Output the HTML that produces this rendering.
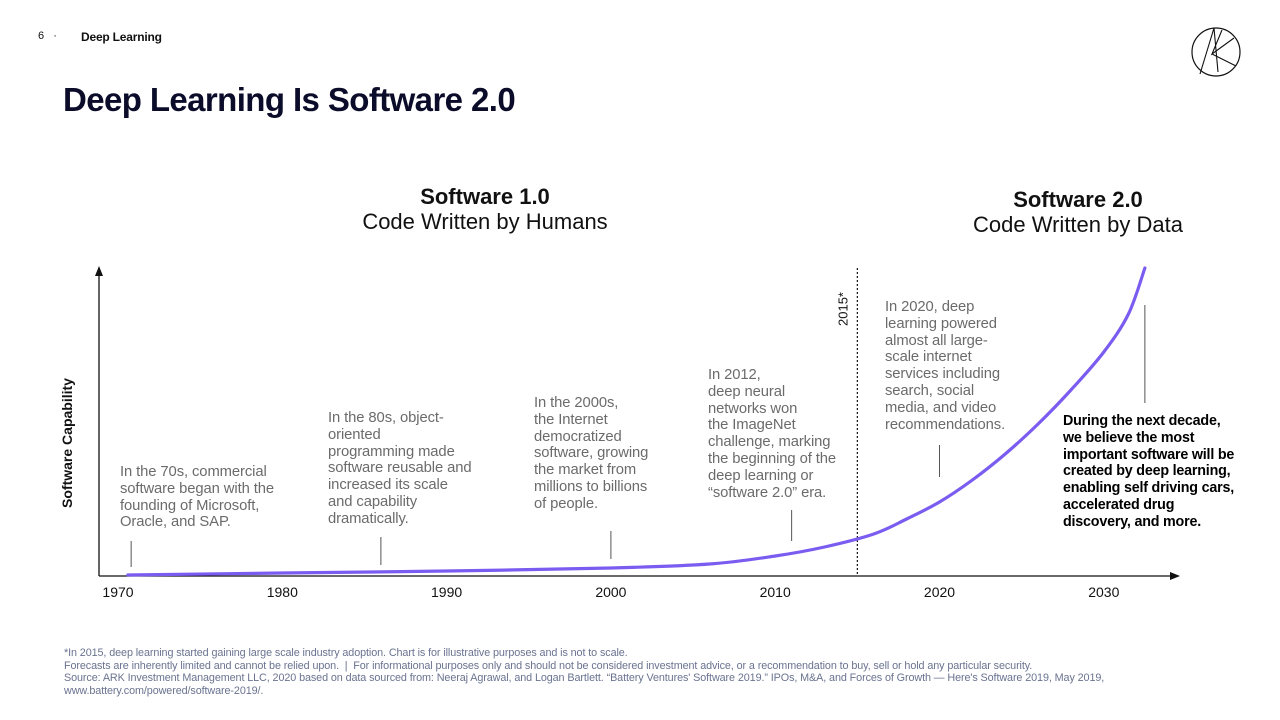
<!DOCTYPE html>
<html><head><meta charset="utf-8"><style>
body{margin:0;width:1280px;height:720px;background:#fff;font-family:"Liberation Sans",sans-serif;position:relative;overflow:hidden}
.a{position:absolute;white-space:nowrap}
.note{position:absolute;color:#6b6b6b;font-size:14.8px;line-height:16.8px;white-space:nowrap;letter-spacing:-0.1px}
.foot{position:absolute;left:64px;color:#6a7390;font-size:10.8px;line-height:12.5px;white-space:nowrap;letter-spacing:-0.1px}
</style></head><body>
<div class="a" style="left:38px;top:30px;font-size:11px;color:#111">6&nbsp;&nbsp;&nbsp;·</div>
<div class="a" style="left:81px;top:30px;font-size:12px;font-weight:bold;color:#111;letter-spacing:-0.2px">Deep Learning</div>
<svg class="a" style="left:1190px;top:26px" width="54" height="52"><ellipse cx="26" cy="26" rx="24" ry="24" fill="none" stroke="#111" stroke-width="1.2"/><path d="M24 2 L10 48 M24 2 L28 46 M32 4 L22 28 L44 12 M22 28 L46 40" fill="none" stroke="#111" stroke-width="1.1"/></svg>
<div class="a" style="left:63px;top:81px;font-size:33px;font-weight:bold;color:#0b0b2a;letter-spacing:-0.6px">Deep Learning Is Software 2.0</div>
<div class="a" style="left:336px;top:184px;width:298px;text-align:center;color:#111;font-size:22px;line-height:25px"><b>Software 1.0</b><br>Code Written by Humans</div>
<div class="a" style="left:948px;top:187px;width:260px;text-align:center;color:#111;font-size:22px;line-height:25px"><b>Software 2.0</b><br>Code Written by Data</div>
<div class="a" style="left:67px;top:443px;transform:translate(-50%,-50%) rotate(-90deg);font-size:14px;font-weight:bold;color:#111">Software Capability</div>
<div class="a" style="left:843px;top:309px;transform:translate(-50%,-50%) rotate(-90deg);font-size:13px;color:#111">2015*</div>
<svg id="chart" class="a" style="left:0;top:0" width="1280" height="720"></svg>
<div class="note" style="left:120px;top:464px">In the 70s, commercial<br>software began with the<br>founding of Microsoft,<br>Oracle, and SAP.</div>
<div class="note" style="left:328px;top:410px">In the 80s, object-<br>oriented<br>programming made<br>software reusable and<br>increased its scale<br>and capability<br>dramatically.</div>
<div class="note" style="left:534px;top:395px">In the 2000s,<br>the Internet<br>democratized<br>software, growing<br>the market from<br>millions to billions<br>of people.</div>
<div class="note" style="left:708px;top:367px">In 2012,<br>deep neural<br>networks won<br>the ImageNet<br>challenge, marking<br>the beginning of the<br>deep learning or<br>“software 2.0” era.</div>
<div class="note" style="left:885px;top:299px">In 2020, deep<br>learning powered<br>almost all large-<br>scale internet<br>services including<br>search, social<br>media, and video<br>recommendations.</div>
<div class="a" style="left:1063px;top:413px;font-size:14.3px;line-height:16.8px;font-weight:bold;color:#000;letter-spacing:-0.2px">During the next decade,<br>we believe the most<br>important software will be<br>created by deep learning,<br>enabling self driving cars,<br>accelerated drug<br>discovery, and more.</div>
<div class="foot" style="top:647px">*In 2015, deep learning started gaining large scale industry adoption. Chart is for illustrative purposes and is not to scale.<br>Forecasts are inherently limited and cannot be relied upon. &nbsp;| &nbsp;For informational purposes only and should not be considered investment advice, or a recommendation to buy, sell or hold any particular security.<br>Source: ARK Investment Management LLC, 2020 based on data sourced from: Neeraj Agrawal, and Logan Bartlett. “Battery Ventures' Software 2019.” IPOs, M&amp;A, and Forces of Growth — Here's Software 2019, May 2019,<br>www.battery.com/powered/software-2019/.</div>
<script>
const tickYears=[1970,1980,1990,2000,2010,2020,2030];
const curveYears=[1970.6,1980,1990,2000,2006,2010,2013,2016,2018,2020,2022,2024,2026,2028,2030,2031.5,2032.5];
const curveValues=[1,3,5,8,12,20,29,42,57,74,96,122,152,186,224,262,308];
const leaderYears=[1970.8,1986,2000,2011,2020,2032.5];
const leaderTop=[541,537,531,510,445,305];
const leaderBottom=[567,565,559,541,477,403];
const svg=document.getElementById('chart');const NS='http://www.w3.org/2000/svg';
const x=y=>118+(y-1970)*16.43;const y0=576;const yv=v=>y0-v;
function mk(t,a){const e=document.createElementNS(NS,t);for(const k in a)e.setAttribute(k,a[k]);svg.appendChild(e);return e;}
let e=mk('line',{x1:99,y1:576,x2:1172,y2:576,stroke:'#111','stroke-width':1.3});

e=mk('polygon',{points:'1180,576 1170,572 1170,580',fill:'#111'});

e=mk('line',{x1:99,y1:576,x2:99,y2:274,stroke:'#111','stroke-width':1.3});

e=mk('polygon',{points:'99,266 95,276 103,276',fill:'#111'});

e=mk('line',{x1:x(2015),y1:268,x2:x(2015),y2:576,stroke:'#111','stroke-width':1.2,'stroke-dasharray':'2,2'});

tickYears.forEach(t=>{const l=mk('text',{x:x(t),y:597,'text-anchor':'middle','font-size':14,fill:'#111','font-family':'Liberation Sans'});l.textContent=t;

});
leaderYears.forEach((t,i)=>{const l=mk('line',{x1:x(t),y1:leaderTop[i],x2:x(t),y2:leaderBottom[i],stroke:'#555','stroke-width':1});

});
const pts=curveYears.map((t,i)=>[x(t),yv(curveValues[i])]);
let d='M'+pts[0][0]+','+pts[0][1];
for(let i=0;i<pts.length-1;i++){const p0=pts[i-1]||pts[i],p1=pts[i],p2=pts[i+1],p3=pts[i+2]||p2;
d+=' C'+(p1[0]+(p2[0]-p0[0])/6)+','+(p1[1]+(p2[1]-p0[1])/6)+' '+(p2[0]-(p3[0]-p1[0])/6)+','+(p2[1]-(p3[1]-p1[1])/6)+' '+p2[0]+','+p2[1];}
e=mk('path',{d:d,fill:'none',stroke:'#7b5cf0','stroke-width':3.2,'stroke-linecap':'round'});

</script>
</body></html>
